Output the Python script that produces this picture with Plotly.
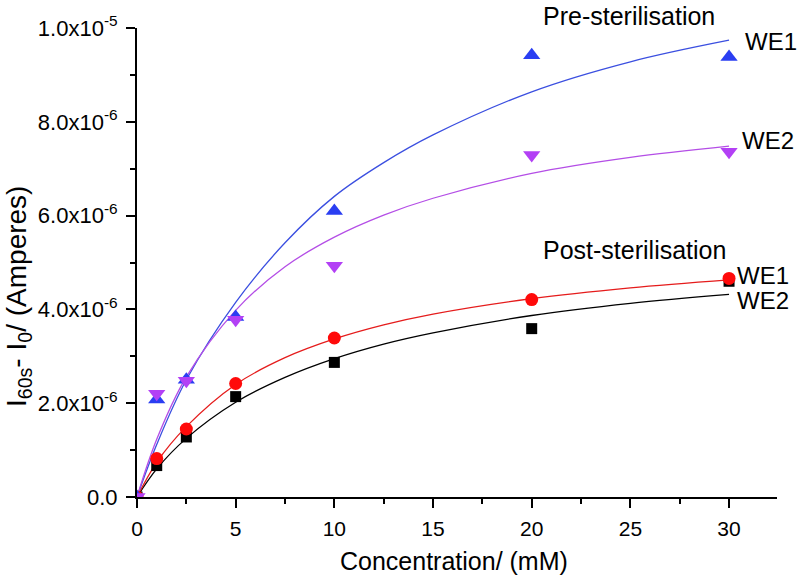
import plotly.graph_objects as go

# ---- data ----
conc = [0, 1, 2.5, 5, 10, 20, 30]
pre_we1 = [0, 2.08e-6, 2.50e-6, 3.84e-6, 6.10e-6, 9.42e-6, 9.38e-6]
pre_we2 = [0, 2.20e-6, 2.48e-6, 3.78e-6, 4.93e-6, 7.29e-6, 7.36e-6]
post_we1 = [0, 0.82e-6, 1.45e-6, 2.42e-6, 3.39e-6, 4.21e-6, 4.66e-6]
post_we2 = [0, 0.67e-6, 1.28e-6, 2.14e-6, 2.87e-6, 3.59e-6, 4.60e-6]

# fitted curves
fit_x = [0, 1, 2.5, 5, 7.5, 10, 12.5, 15, 20, 25, 30]
fit_pre_we1 = [0, 1.12e-6, 2.50e-6, 4.15e-6, 5.42e-6, 6.41e-6, 7.13e-6, 7.72e-6, 8.64e-6, 9.28e-6, 9.74e-6]
fit_pre_we2 = [0, 1.23e-6, 2.56e-6, 3.98e-6, 4.91e-6, 5.54e-6, 6.01e-6, 6.37e-6, 6.90e-6, 7.24e-6, 7.48e-6]
fit_post_we1 = [0, 0.74e-6, 1.50e-6, 2.40e-6, 2.97e-6, 3.37e-6, 3.67e-6, 3.90e-6, 4.23e-6, 4.46e-6, 4.63e-6]
fit_post_we2 = [0, 0.60e-6, 1.25e-6, 2.02e-6, 2.55e-6, 2.95e-6, 3.26e-6, 3.50e-6, 3.87e-6, 4.13e-6, 4.32e-6]

x_ticks = [0, 5, 10, 15, 20, 25, 30]
y_ticks = [0, 2e-6, 4e-6, 6e-6, 8e-6, 1e-5]
y_ticktext = ["0.0", "2.0x10<sup>-6</sup>", "4.0x10<sup>-6</sup>", "6.0x10<sup>-6</sup>",
              "8.0x10<sup>-6</sup>", "1.0x10<sup>-5</sup>"]

BLUE = "#2a3ef2"
PURPLE = "#b340f5"
RED = "#ff0a0a"
BLACK = "#000000"
FONT = "Liberation Sans, Arial, sans-serif"

fig = go.Figure()

for fx, fy, col in [(fit_x, fit_post_we2, BLACK), (fit_x, fit_post_we1, "#e51c1c"),
                    (fit_x, fit_pre_we1, "#3b4fe0"), (fit_x, fit_pre_we2, "#b44ee6")]:
    fig.add_trace(go.Scatter(x=fx, y=fy, mode="lines", line=dict(color=col, width=1.3, shape="spline"),
                             showlegend=False, hoverinfo="skip"))

fig.add_trace(go.Scatter(x=conc, y=post_we2, mode="markers",
                         marker=dict(symbol="square", size=11, color=BLACK), showlegend=False))
fig.add_trace(go.Scatter(x=conc, y=post_we1, mode="markers",
                         marker=dict(symbol="circle", size=13, color=RED), showlegend=False))
fig.add_trace(go.Scatter(x=conc, y=pre_we1, mode="markers",
                         marker=dict(symbol="triangle-up", size=15, color=BLUE), showlegend=False))
fig.add_trace(go.Scatter(x=conc, y=pre_we2, mode="markers",
                         marker=dict(symbol="triangle-down", size=15, color=PURPLE), showlegend=False))

W, H = 799, 576
L, T, R, B = 137, 28, 22, 79
pw, ph = W - L - R, H - T - B

def px(xw):
    return (xw - L) / pw

def py(yw):
    return 1 - (yw - T) / ph

annotations = [
    dict(text="Pre-sterilisation", x=629, y=16, xanchor="center", size=25),
    dict(text="WE1", x=743, y=42, xanchor="left", size=24),
    dict(text="WE2", x=740, y=140, xanchor="left", size=24),
    dict(text="Post-sterilisation", x=541, y=250, xanchor="left", size=25),
    dict(text="WE1", x=735, y=275, xanchor="left", size=24),
    dict(text="WE2", x=735, y=300, xanchor="left", size=24),
]
for a in annotations:
    fig.add_annotation(text=a["text"], xref="paper", yref="paper",
                       x=px(a["x"]), y=py(a["y"]),
                       xanchor=a["xanchor"], yanchor="middle", showarrow=False,
                       font=dict(family=FONT, size=a["size"], color="black"))

# axis titles
fig.add_annotation(text="Concentration/ (mM)", xref="paper", yref="paper",
                   x=px(454), y=py(561), xanchor="center", yanchor="middle",
                   showarrow=False, font=dict(family=FONT, size=25, color="black"))
fig.add_annotation(text="I<sub>60s</sub>- I<sub>0</sub>/ (Amperes)", xref="paper", yref="paper",
                   x=px(18), y=py(297), xanchor="center", yanchor="middle", textangle=-90,
                   showarrow=False, font=dict(family=FONT, size=28, color="black"))

fig.update_layout(
    width=W, height=H,
    margin=dict(l=L, r=R, t=T, b=B, autoexpand=False),
    paper_bgcolor="white", plot_bgcolor="white",
    font=dict(family=FONT, size=22, color="black"),
    showlegend=False,
)
fig.update_xaxes(
    range=[0, 32.43], tickvals=x_ticks, showgrid=False, zeroline=False,
    showline=True, linecolor="black", linewidth=2,
    ticks="outside", ticklen=9, tickwidth=1.7, tickcolor="black",
    tickfont=dict(family=FONT, size=21), ticklabelstandoff=3,
    minor=dict(dtick=2.5, tick0=0, ticks="outside", ticklen=5, tickwidth=1.5, tickcolor="black"),
)
fig.update_yaxes(
    range=[0, 1.0e-5], tickvals=y_ticks, ticktext=y_ticktext, showgrid=False, zeroline=False,
    showline=True, linecolor="black", linewidth=2,
    ticks="outside", ticklen=9, tickwidth=1.7, tickcolor="black",
    tickfont=dict(family=FONT, size=22), ticklabelstandoff=4,
    minor=dict(dtick=1e-6, tick0=0, ticks="outside", ticklen=5, tickwidth=1.5, tickcolor="black"),
)

fig.write_html("out.html", config={"displayModeBar": False},
               post_script="document.body.style.margin='0';")
